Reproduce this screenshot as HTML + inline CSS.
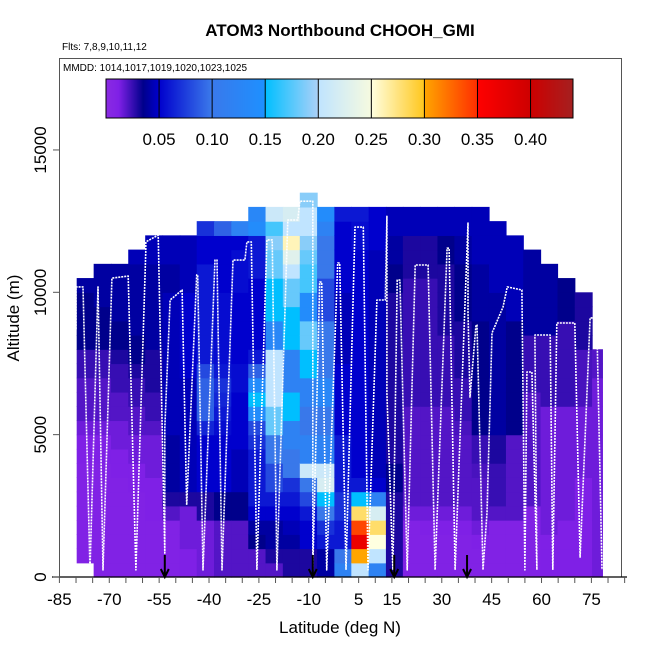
<!DOCTYPE html>
<html><head><meta charset="utf-8">
<style>
html,body{margin:0;padding:0;background:#fff;}
svg{display:block;font-family:"Liberation Sans",sans-serif;}
</style></head>
<body>
<svg id="chart" width="650" height="650" viewBox="0 0 650 650">
  <text x="340" y="36" text-anchor="middle" font-size="17" font-weight="bold">ATOM3 Northbound CHOOH_GMI</text>
  <text x="62" y="50" font-size="10">Flts: 7,8,9,10,11,12</text>
  <g id="cells"></g>
  <g id="track"></g>
  <g id="arrows"></g>
  <rect x="59.5" y="58.5" width="562" height="518.5" fill="none" stroke="#555" stroke-width="1"/>
  <text x="63" y="71" font-size="10">MMDD: 1014,1017,1019,1020,1023,1025</text>
  <g id="cbar"></g>
  <g id="axes"></g>
  <text x="340" y="633" text-anchor="middle" font-size="17">Latitude (deg N)</text>
  <text transform="translate(19,318) rotate(-90)" text-anchor="middle" font-size="17">Altitude (m)</text>
</svg>
<script>
// ---- data ----
const latStarts = [-79.8,-74.7,-69.5,-64.3,-59.2,-54.0,-48.8,-43.7,-38.5,-33.3,-28.2,-23.0,-17.8,-12.7,-7.5,-2.3,2.8,8.0,13.2,18.3,23.5,28.7,33.8,39.0,44.2,49.3,54.5,59.7,64.8,70.0,75.2];
const latEnd = 78.3;
const altStep = 500;
// values per latitude bin, bottom-up 500 m rows (null = no data)
const colValues = [
 [null,.01,.01,.01,.01,.01,.01,.01,.012,.012,.015,.02,.02,.02,.025,.025,.035,.035,.035,.035,.04],
 [.01,.01,.01,.01,.01,.01,.01,.01,.012,.012,.015,.02,.02,.02,.025,.025,.035,.035,.035,.04,.04,.04],
 [.01,.01,.01,.01,.01,.01,.01,.012,.012,.015,.015,.02,.02,.025,.025,.03,.035,.035,.04,.04,.04,.04],
 [.01,.01,.01,.01,.01,.01,.012,.012,.015,.015,.02,.02,.025,.025,.03,.035,.035,.04,.04,.04,.04,.04,.045],
 [.01,.01,.01,.01,.012,.012,.012,.015,.015,.015,.02,.025,.025,.03,.03,.03,.04,.04,.04,.04,.04,.04,.045,.045],
 [.01,.01,.01,.01,.02,.03,.04,.04,.04,.04,.045,.045,.045,.045,.045,.045,.045,.045,.045,.045,.04,.04,.045,.045],
 [.012,.012,.015,.015,.015,.03,.045,.045,.045,.045,.045,.045,.045,.045,.05,.05,.05,.05,.05,.05,.045,.045,.045,.045],
 [.015,.015,.015,.015,.03,.03,.05,.05,.05,.05,.065,.09,.09,.09,.08,.06,.06,.06,.06,.06,.06,.06,.05,.05,.07],
 [.02,.02,.02,.02,.035,.035,.05,.05,.05,.05,.055,.06,.065,.07,.06,.055,.055,.055,.055,.055,.05,.05,.05,.05,.09],
 [.02,.02,.02,.02,.035,.035,.045,.045,.045,.05,.05,.05,.05,.055,.055,.05,.05,.05,.05,.05,.055,.055,.055,.05,.12],
 [.02,.02,.035,.04,.05,.06,.06,.06,.06,.07,.08,.14,.15,.14,.09,.06,.05,.05,.05,.05,.05,.06,.06,.06,.14,.13],
 [.02,.03,.04,.04,.05,.06,.08,.08,.1,.1,.18,.18,.2,.2,.2,.2,.13,.13,.15,.15,.15,.18,.18,.19,.17,.21],
 [.03,.03,.04,.045,.05,.06,.07,.1,.1,.12,.12,.15,.15,.12,.12,.12,.15,.15,.15,.18,.18,.2,.23,.26,.2,.22],
 [.03,.03,.05,.05,.06,.08,.1,.21,.12,.12,.1,.1,.12,.12,.15,.15,.18,.18,.14,.14,.17,.17,.18,.19,.2,.2,.19],
 [.04,.04,.06,.07,.1,.15,.22,.21,.12,.12,.1,.1,.13,.13,.1,.1,.1,.1,.08,.08,.08,.1,.1,.1,.12,.14],
 [.12,.1,.06,.06,.07,.07,.06,.06,.06,.06,.05,.05,.05,.05,.05,.045,.045,.045,.045,.045,.05,.05,.05,.05,.05,.06],
 [.2,.3,.37,.34,.28,.15,.06,.05,.05,.05,.05,.05,.05,.05,.05,.05,.05,.05,.05,.05,.05,.05,.05,.055,.055,.06],
 [.12,.2,.25,.28,.22,.12,.05,.045,.045,.045,.045,.045,.045,.045,.045,.045,.045,.045,.045,.045,.045,.045,.045,.05,.05,.05],
 [.03,.03,.03,.03,.03,.03,.035,.035,.03,.03,.03,.03,.03,.03,.03,.03,.03,.03,.03,.03,.035,.035,.04,.04,.045,.045],
 [.01,.01,.01,.01,.015,.02,.02,.02,.02,.02,.02,.02,.025,.025,.025,.025,.025,.025,.025,.025,.025,.03,.03,.03,.045,.045],
 [.01,.01,.01,.012,.015,.02,.02,.02,.02,.02,.02,.02,.025,.025,.025,.025,.025,.025,.025,.025,.025,.03,.03,.03,.045,.045],
 [.01,.01,.01,.012,.015,.02,.02,.02,.02,.02,.02,.02,.025,.025,.025,.025,.025,.03,.03,.03,.03,.03,.035,.035,.045,.045],
 [.01,.01,.01,.012,.015,.02,.02,.02,.02,.02,.022,.025,.025,.025,.03,.03,.03,.03,.035,.035,.035,.035,.04,.04,.045,.045],
 [.01,.01,.012,.015,.02,.02,.02,.022,.025,.025,.035,.035,.035,.035,.035,.035,.035,.035,.04,.04,.04,.04,.045,.045,.045,.045],
 [.01,.01,.01,.01,.02,.025,.025,.025,.03,.03,.04,.04,.04,.04,.04,.04,.04,.04,.04,.04,.045,.045,.045,.045,.045],
 [.01,.01,.01,.01,.02,.02,.02,.02,.02,.02,.035,.035,.035,.035,.035,.035,.035,.035,.045,.045,.045,.045,.045,.045],
 [.01,.01,.01,.01,.01,.02,.02,.02,.02,.02,.02,.02,.02,.025,.025,.025,.025,.04,.04,.04,.04,.04,.04],
 [.012,.012,.012,.015,.015,.015,.015,.015,.015,.015,.015,.015,.025,.025,.025,.025,.025,.04,.04,.04,.04,.04],
 [.012,.012,.012,.012,.015,.015,.015,.015,.015,.015,.015,.015,.025,.025,.025,.025,.025,.025,.035,.035,.035],
 [.012,.012,.012,.012,.012,.012,.012,.015,.015,.015,.015,.015,.022,.022,.022,.022,.03,.03,.03,.03],
 [.015,.015,.015,.015,.015,.015,.015,.015,.015,.015,.015,.015,.015,.015,.02,.02]
];
const trackLat = [-80.0,-80.0,-77.9,-75.8,-73.4,-71.9,-69.2,-64.3,-62.0,-59.0,-59.0,-55.3,-53.3,-53.3,-51.7,-48.1,-46.7,-43.7,-43.4,-41.8,-38.2,-37.6,-36.1,-32.8,-29.2,-28.6,-27.3,-25.6,-22.6,-21.0,-19.6,-16.3,-13.3,-12.7,-8.8,-8.8,-6.7,-6.1,-4.6,-1.3,-0.7,1.2,3.9,6.4,7.8,10.5,13.0,13.5,13.5,15.3,16.6,17.4,19.6,22.0,25.9,28.0,31.6,32.2,34.0,37.9,37.9,38.5,40.3,40.6,42.4,43.6,45.1,48.4,49.7,54.1,55.0,55.6,57.1,58.6,58.0,62.6,63.4,64.6,67.0,70.0,71.6,74.6,76.6,78.2];
const trackAlt = [8700,10190,10190,250,10190,250,10500,10570,250,11480,11770,12010,840,5230,9730,10080,2530,10610,10610,250,11130,11130,250,11130,11130,11770,11770,250,11840,11840,250,12540,12540,13200,13200,250,10360,10360,250,11030,11030,250,12290,12290,250,9730,9730,12670,6460,250,10430,10430,250,10960,10960,250,11550,11550,250,12430,9270,6320,8850,8850,250,2250,8570,9480,10190,10080,250,7200,7200,250,8500,8500,250,8920,8920,8920,700,9100,9100,250];
const arrowLats = [-53.3,-8.8,15.7,37.6];
const xTickLabels = [-85,-70,-55,-40,-25,-10,5,15,30,45,60,75];
const yTickValues = [0,5000,10000,15000];
const cbarTicks = [0.05,0.10,0.15,0.20,0.25,0.30,0.35,0.40];
const cbarMax = 0.44;

// ---- scales ----
const X = lat => 59.4 + (lat + 85) * 3.325;
const Y = alt => 577 - alt * 0.028470;
const CB = v => 106 + v / cbarMax * 467;
const stops = [[0,'#8a2be2'],[0.012,'#7f20e6'],[0.035,'#00008b'],[0.05,'#0000cd'],[0.099,'#3a78ea'],[0.149,'#1e90ff'],[0.15,'#00bfff'],[0.199,'#a8d0f8'],[0.2,'#c0e4ff'],[0.249,'#f5fae0'],[0.25,'#ffffe0'],[0.299,'#ffc820'],[0.3,'#ffa500'],[0.349,'#ff3000'],[0.35,'#ff0000'],[0.4,'#cd0000'],[0.44,'#a52020']];
function hex(h){return [1,3,5].map(i=>parseInt(h.substr(i,2),16));}
function color(v){
  if(v<=0) return stops[0][1];
  for(let i=1;i<stops.length;i++){
    if(v<=stops[i][0]){
      const a=stops[i-1],b=stops[i],t=(v-a[0])/(b[0]-a[0]);
      const ca=hex(a[1]),cb=hex(b[1]);
      return 'rgb('+ca.map((c,k)=>Math.round(c+(cb[k]-c)*t)).join(',')+')';
    }
  }
  return stops[stops.length-1][1];
}
const NS='http://www.w3.org/2000/svg';
function mk(tag,attrs,parent){const e=document.createElementNS(NS,tag);for(const k in attrs)e.setAttribute(k,attrs[k]);parent.appendChild(e);return e;}

// ---- cells ----
const gc=document.getElementById('cells');
colValues.forEach((col,i)=>{
  const l0=latStarts[i], l1=(i+1<latStarts.length)?latStarts[i+1]:latEnd;
  col.forEach((v,r)=>{
    if(v===null) return;
    const x0=X(l0),x1=X(l1),y0=Y((r+1)*altStep),y1=Y(r*altStep);
    const c=mk('rect',{x:x0.toFixed(2),y:y0.toFixed(2),width:(x1-x0+0.6).toFixed(2),height:(y1-y0+0.6).toFixed(2),fill:color(v)},gc);
    
    
  });
});

// ---- track ----
const gt=document.getElementById('track');
const pts=trackLat.map((la,k)=>X(la).toFixed(1)+','+Y(trackAlt[k]).toFixed(1)).join(' ');
const pl=mk('polyline',{points:pts,fill:'none',stroke:'#fff','stroke-width':'1.6','stroke-dasharray':'2 1','stroke-linejoin':'round'},gt);



// ---- arrows ----
const ga=document.getElementById('arrows');
arrowLats.forEach(la=>{
  const x=X(la);
  const a=mk('path',{d:`M${x} 555 L${x} 576 M${x-4} 569 L${x} 577 L${x+4} 569`,stroke:'#000','stroke-width':'2',fill:'none'},ga);
  
  
});

// ---- colorbar ----
const gcb=document.getElementById('cbar');
for(let k=0;k<467;k++){
  const v=(k+0.5)/467*cbarMax;
  mk('rect',{x:106+k,y:79,width:1.2,height:39,fill:color(v)},gcb);
}
mk('rect',{x:106,y:79,width:467,height:39,fill:'none',stroke:'#000','stroke-width':'1'},gcb);
cbarTicks.forEach(t=>{
  const x=CB(t);
  mk('line',{x1:x,y1:79,x2:x,y2:118,stroke:'#000','stroke-width':'1'},gcb);
  const tx=mk('text',{x:x,y:145,'text-anchor':'middle','font-size':'17'},gcb);
  tx.textContent=t.toFixed(2);
  
  
});

// ---- axes ----
const gx=document.getElementById('axes');
mk('line',{x1:52,y1:577,x2:627,y2:577,stroke:'#000','stroke-width':'1.2'},gx);
for(let la=-85;la<=85;la+=5){
  const x=X(la);
  mk('line',{x1:x,y1:577,x2:x,y2:583,stroke:'#555','stroke-width':'1'},gx);
}
xTickLabels.forEach(la=>{
  const t=mk('text',{x:X(la),y:605,'text-anchor':'middle','font-size':'17'},gx);
  t.textContent=la;
  
  
});
mk('line',{x1:59.5,y1:Y(15000),x2:59.5,y2:577,stroke:'#555','stroke-width':'1'},gx);
yTickValues.forEach(v=>{
  const y=Y(v);
  mk('line',{x1:53,y1:y,x2:59.5,y2:y,stroke:'#555','stroke-width':'1'},gx);
  const t=mk('text',{transform:`translate(46,${y}) rotate(-90)`,'text-anchor':'middle','font-size':'17'},gx);
  t.textContent=v;
  
  
});
</script>
</body></html>
